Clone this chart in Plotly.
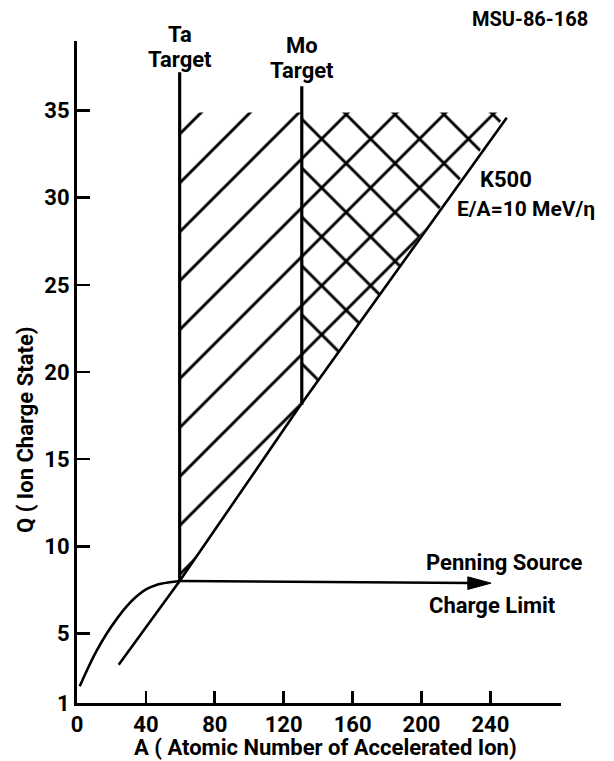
import plotly.graph_objects as go

# ---------------- data ----------------
x_tick_vals = [0, 40, 80, 120, 160, 200, 240]
x_tick_text = ["0", "40", "80", "120", "160", "200", "240"]
y_tick_vals = [1, 5, 10, 15, 20, 25, 30, 35]
y_tick_text = ["1", "5", "10", "15", "20", "25", "30", "35"]

# Penning source charge-limit curve (A, Q)
penning_A = [1.6, 5.8, 11.2, 17.0, 22.9, 28.7, 34.5, 40.3, 46.1, 53.8, 59.6]
penning_Q = [1.96, 2.88, 3.96, 4.95, 5.80, 6.53, 7.11, 7.53, 7.78, 7.93, 8.0]
# horizontal Penning limit arrow
limit_A = [59.6, 240.4]
limit_Q = [8.0, 7.88]
# K500, E/A = 10 MeV/u line
k500_A = [24.2, 59.6, 129.8, 249.5]
k500_Q = [3.2, 8.0, 18.1, 34.6]
# target lines
ta_A = [59.6, 59.6]
ta_Q = [8.0, 37.2]
mo_A = [130.5, 130.5]
mo_Q = [18.1, 36.4]
# upper end of hatching
hatch_top_Q = 34.9

# ---------------- layout geometry ----------------
W, H = 614, 761
ML, MR, MT, MB = 77, 53, 41, 58
PW, PH = W - ML - MR, H - MT - MB
X_RANGE = [0, 281]
Y_RANGE = [1, 39.0]

FONT = "Roboto"
BLACK = "#000000"


def px(xp):
    return (xp - ML) / PW


def py(yp):
    return (H - MB - yp) / PH


fig = go.Figure()

# Ta-target region (single hatch), bounded by Ta line, K500 line and Mo line
ta_poly_A = [ta_A[0], k500_A[2], mo_A[0], mo_A[0], ta_A[0]]
ta_poly_Q = [ta_Q[0], k500_Q[2], mo_Q[0], hatch_top_Q, hatch_top_Q]
fig.add_trace(go.Scatter(
    x=ta_poly_A, y=ta_poly_Q, mode="lines", fill="toself",
    line=dict(width=0, color="rgba(0,0,0,0)"),
    fillcolor="rgba(255,255,255,0)",
    fillpattern=dict(shape="/", size=34.6, solidity=0.085,
                     fgcolor=BLACK, fgopacity=1),
    hoverinfo="skip", showlegend=False))

# Mo-target region (cross hatch), bounded by Mo line and K500 line
mo_poly_A = [mo_A[0], k500_A[3], mo_A[0]]
mo_poly_Q = [mo_Q[0], hatch_top_Q, hatch_top_Q]
fig.add_trace(go.Scatter(
    x=mo_poly_A, y=mo_poly_Q, mode="lines", fill="toself",
    line=dict(width=0, color="rgba(0,0,0,0)"),
    fillcolor="rgba(255,255,255,0)",
    fillpattern=dict(shape="x", size=34.6, solidity=0.16,
                     fgcolor=BLACK, fgopacity=1),
    hoverinfo="skip", showlegend=False))

# Penning source curve
fig.add_trace(go.Scatter(x=penning_A, y=penning_Q, mode="lines",
                         line=dict(color=BLACK, width=2.6, shape="spline"),
                         hoverinfo="skip", showlegend=False))
# Penning limit (horizontal)
fig.add_trace(go.Scatter(x=[limit_A[0], limit_A[1] - 12], y=[limit_Q[0], limit_Q[1] + 0.01],
                         mode="lines", line=dict(color=BLACK, width=2.6),
                         hoverinfo="skip", showlegend=False))
# arrow head
AH_LEN = 13.5   # in A units
AH_HALF = 0.36  # in Q units
fig.add_trace(go.Scatter(
    x=[limit_A[1], limit_A[1] - AH_LEN, limit_A[1] - AH_LEN, limit_A[1]],
    y=[limit_Q[1], limit_Q[1] + AH_HALF, limit_Q[1] - AH_HALF, limit_Q[1]],
    mode="lines", fill="toself", fillcolor=BLACK,
    line=dict(color=BLACK, width=1), hoverinfo="skip", showlegend=False))

# K500 line
fig.add_trace(go.Scatter(x=k500_A, y=k500_Q, mode="lines",
                         line=dict(color=BLACK, width=2.6),
                         hoverinfo="skip", showlegend=False))
# target lines
fig.add_trace(go.Scatter(x=ta_A, y=ta_Q, mode="lines",
                         line=dict(color=BLACK, width=3.2),
                         hoverinfo="skip", showlegend=False))
fig.add_trace(go.Scatter(x=mo_A, y=mo_Q, mode="lines",
                         line=dict(color=BLACK, width=3.2),
                         hoverinfo="skip", showlegend=False))

# ---------------- text ----------------
def label(text, xp, yp, size=22, xanchor="center", angle=0):
    fig.add_annotation(text=f"<b>{text}</b>", x=px(xp), y=py(yp),
                       xref="paper", yref="paper", showarrow=False,
                       xanchor=xanchor, yanchor="middle", textangle=angle,
                       borderpad=0,
                       font=dict(family=FONT, size=size, color=BLACK))


label("MSU-86-168", 530, 19, size=20)
label("Ta", 180, 35, size=22)
label("Target", 180, 59, size=22)
label("Mo", 302, 46, size=22)
label("Target", 302, 70, size=22)
label("K500", 479, 179, size=22, xanchor="left")
label("E/A=10 MeV/\u03b7", 456, 209, size=21, xanchor="left")
label("Penning Source", 504, 562, size=22)
label("Charge Limit", 492, 605, size=22)
label("A ( Atomic Number of Accelerated Ion)", 325, 747, size=22)
label("Q ( Ion Charge State)", 25, 430, size=22, angle=-90)

axis_common = dict(
    showgrid=False, zeroline=False, showline=True, linecolor=BLACK,
    linewidth=3, ticks="inside", tickcolor=BLACK, tickwidth=2.6,
    tickfont=dict(family=FONT, size=22, color=BLACK), mirror=False,
)
fig.update_xaxes(range=X_RANGE, tickvals=x_tick_vals,
                 ticktext=[f"<b>{t}</b>" for t in x_tick_text],
                 ticklen=12, **axis_common)
fig.update_yaxes(range=Y_RANGE, tickvals=y_tick_vals,
                 ticktext=[f"<b>{t}</b>" for t in y_tick_text],
                 ticklen=13, **axis_common)

fig.update_layout(
    width=W, height=H, autosize=False,
    margin=dict(l=ML, r=MR, t=MT, b=MB, pad=0),
    paper_bgcolor="white", plot_bgcolor="white",
    showlegend=False,
)

fig.write_html("out.html",
               config={"displayModeBar": False, "staticPlot": True},
               post_script="document.body.style.margin='0';"
                           "document.body.style.padding='0';")
